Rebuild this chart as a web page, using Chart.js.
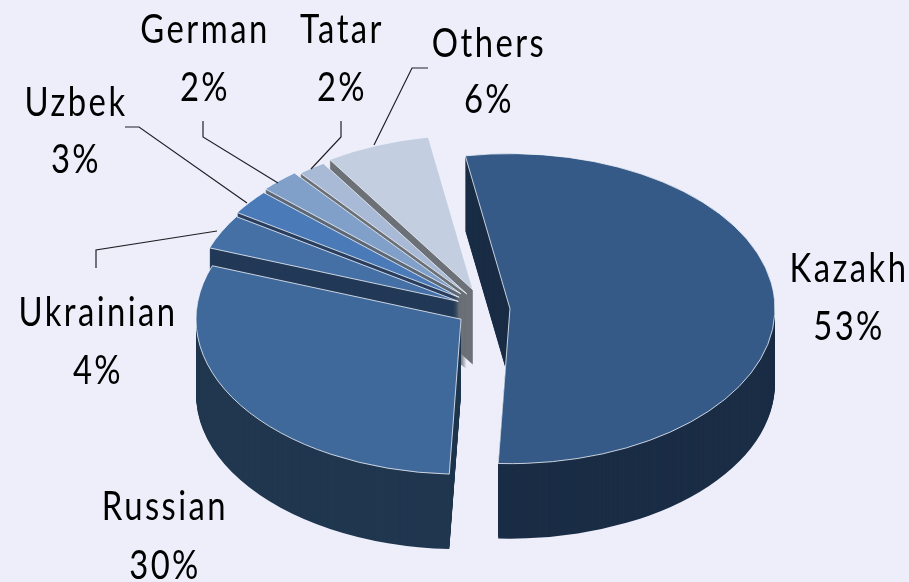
<!DOCTYPE html>
<html>
<head>
<meta charset="utf-8">
<style>
  html, body { margin: 0; padding: 0; background: #eeeefb; }
  #wrap { width: 909px; height: 582px; overflow: hidden; }
</style>
<script src="https://cdn.jsdelivr.net/npm/chart.js@4"></script>
</head>
<body>
<div id="wrap"><canvas id="pie"></canvas></div>
<script>
const categories = ["Kazakh", "Russian", "Ukrainian", "Uzbek", "German", "Tatar", "Others"];
const shares = [53.4, 29.9, 3.6, 2.6, 2.4, 1.7, 6.4];

const topColors = ["#355a87", "#40699b", "#4570a6", "#4a7bb8", "#80a0c9", "#a9bad6", "#c3cfe1"];
const wallColors = ["#1a2d45", "#20374f", "#223957", "#2a3f5f", "#5d6877", "#6c7077", "#6c7077"];

/* how far each slice is pulled out, and the fake 3D view */
const explode = [24, 30, 31, 34, 37, 33, 36];
const squash = 0.585;
const depth = 75;

/* label text centres [x, y of name, y of percent] and leader lines */
const labelSpots = [
    [849, 269, 327], [165, 507, 566], [98, 313, 371], [76, 103, 160],
    [205, 30, 88], [342, 30, 88], [489, 44, 100]
];
const leaders = [
    null, null,
    [[96, 268], [96, 250], [217, 231]],
    [[125, 127], [139, 127], [247, 203]],
    [[203, 121], [203, 137], [278, 183]],
    [[341, 121], [341, 137], [311, 169]],
    [[428, 68], [412, 68], [374, 145]]
];

const pie3d = {
    id: "pie3d",
    beforeDatasetDraw(chart, args) {
        const ctx = chart.ctx;
        const arcs = args.meta.data;
        /* back slices first, the big ones go on top */
        for (let i = arcs.length - 1; i >= 0; i--) {
            const arc = arcs[i];
            const mid = (arc.startAngle + arc.endAngle) / 2;
            const dx = Math.cos(mid) * explode[i];
            const dy = Math.sin(mid) * explode[i];
            const topOptions = arc.options;

            const place = (drop) => {
                ctx.save();
                ctx.translate(arc.x, arc.y + drop);
                ctx.scale(1, squash);
                ctx.translate(-arc.x + dx, -arc.y + dy);
                arc.draw(ctx);
                ctx.restore();
            };

            arc.options = { ...topOptions, backgroundColor: wallColors[i], borderWidth: 0 };
            for (let d = depth; d > 0; d--) place(d);
            arc.options = topOptions;
            place(0);
        }
        return false;
    },
    afterDraw(chart) {
        const ctx = chart.ctx;
        ctx.save();
        ctx.strokeStyle = "#1f2126";
        ctx.lineWidth = 1.2;
        leaders.forEach((pts) => {
            if (!pts) return;
            ctx.beginPath();
            pts.forEach((p, j) => (j ? ctx.lineTo(p[0], p[1]) : ctx.moveTo(p[0], p[1])));
            ctx.stroke();
        });
        ctx.fillStyle = "#000";
        ctx.textAlign = "center";
        ctx.textBaseline = "middle";
        ctx.font = '40px Lato';
        ctx.letterSpacing = "3px";
        /* labels are tall and narrow in the original */
        const drawLabel = (text, x, y) => {
            ctx.save();
            ctx.translate(x, y);
            ctx.scale(0.82, 1);
            ctx.fillText(text, 0, 0);
            ctx.restore();
        };
        categories.forEach((name, i) => {
            const s = labelSpots[i];
            drawLabel(name, s[0], s[1]);
            drawLabel(Math.round(shares[i]) + "%", s[0], s[2]);
        });
        ctx.restore();
    }
};

new Chart(document.getElementById("pie"), {
    type: "pie",
    data: {
        labels: categories,
        datasets: [{
            data: shares,
            backgroundColor: topColors,
            borderColor: "#f4f6fc",
            borderWidth: 1
        }]
    },
    options: {
        responsive: true,
        maintainAspectRatio: false,
        animation: false,
        rotation: -9.7,
        radius: 265,
        layout: { padding: { left: 63, top: 37 } },
        plugins: { legend: { display: false }, tooltip: { enabled: false } }
    },
    plugins: [pie3d]
});
</script>
</body>
</html>
